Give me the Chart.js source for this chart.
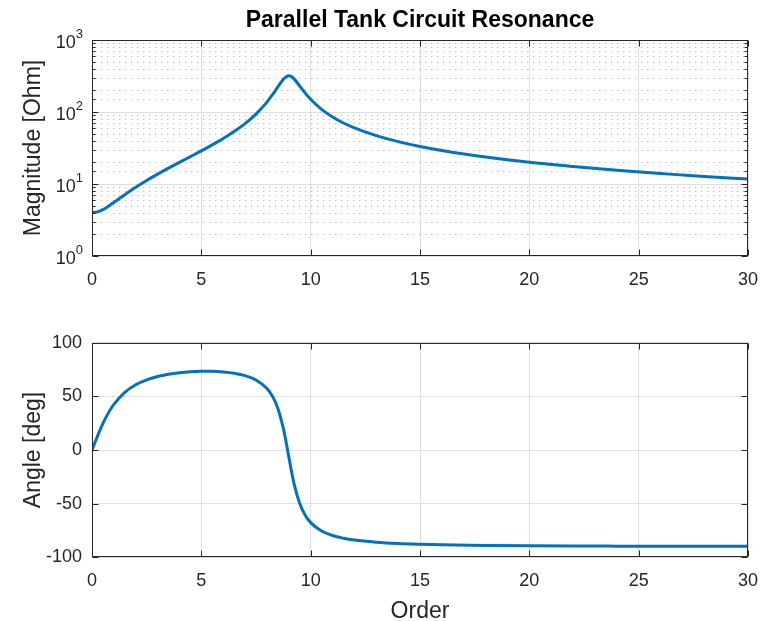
<!DOCTYPE html>
<html>
<head>
<meta charset="utf-8">
<title>Parallel Tank Circuit Resonance</title>
<script src="https://cdn.jsdelivr.net/npm/chart.js@4.4.1/dist/chart.umd.min.js"></script>
<style>
  body { margin: 0; background: #fff; }
  #wrap { position: relative; width: 760px; height: 621px; }
  #wrap canvas { position: absolute; left: 0; }
</style>
</head>
<body>
<div id="wrap">
  <canvas id="magChart" width="760" height="300" style="top:0"></canvas>
  <canvas id="angleChart" width="760" height="321" style="top:300px"></canvas>
</div>
<script>
// harmonic order on the x axis
var orders = [0, 0.25, 0.5, 0.75, 1, 1.5, 2, 2.5, 3, 3.5, 4, 4.5, 5, 5.5, 6, 6.5, 7, 7.5,
  8, 8.25, 8.5, 8.75, 8.9, 9, 9.1, 9.25, 9.5, 9.75, 10, 10.5, 11, 11.5, 12, 13, 14, 15, 16,
  18, 20, 22, 24, 26, 28, 30];

// |Z| in ohm
var magnitudeOhm = [4.0, 4.1, 4.4, 4.9, 5.55, 7.1, 9.0, 11.2, 13.7, 16.6, 20.0, 24.0, 28.8, 35.0,
  42.9, 53.6, 69.0, 93.5, 137, 173, 223, 284, 312, 318, 312, 286, 229, 183, 150, 108.5, 85.1, 70.3,
  60.1, 46.9, 38.8, 33.2, 29.2, 23.7, 20.0, 17.5, 15.5, 14.0, 12.7, 11.7];

// angle of Z in degrees
var angleDeg = [0, 12.8, 24.8, 34.6, 42.5, 53.8, 60.8, 65.4, 68.5, 70.6, 72.1, 73.0, 73.4, 73.3,
  72.7, 71.5, 69.3, 65.3, 57.3, 50.2, 38.7, 20.1, 4.8, -6.4, -17.4, -32.2, -49.9, -60.8, -67.7, -75.5,
  -79.7, -82.2, -83.9, -85.9, -87.1, -87.8, -88.3, -88.9, -89.3, -89.5, -89.6, -89.7, -89.8, -89.8];

var orderTicks = [0, 5, 10, 15, 20, 25, 30];
var angleTicks = [-100, -50, 0, 50, 100];

var FONT = '"Liberation Sans", Arial, Helvetica, sans-serif';
var AXIS_COLOR = '#262626';
var GRID_COLOR = '#dfdfdf';
var LINE_COLOR = '#0072BD';

Chart.defaults.font.family = FONT;
Chart.defaults.color = AXIS_COLOR;

function isDecade(v) {
  var e = Math.log10(v);
  return Math.abs(e - Math.round(e)) < 1e-6;
}

function toPoints(ys) {
  return orders.map(function (x, i) { return { x: x, y: ys[i] }; });
}

// keep the plot box fixed: no extra room for overhanging end labels
function noOverhang(s) {
  s.paddingLeft = 0;
  s.paddingRight = 0;
  s.paddingTop = 0;
  s.paddingBottom = 0;
}

// box, inward tick marks, dotted minor grid and 10^n labels
var matlabAxes = {
  id: 'matlabAxes',
  beforeDatasetsDraw: function (chart, args, opts) {
    if (!opts.minorGrid) return;
    var ctx = chart.ctx, a = chart.chartArea, ys = chart.scales.y;
    ctx.save();
    ctx.strokeStyle = '#b8b8b8';
    ctx.lineWidth = 1;
    ctx.setLineDash([1.2, 4.8]);
    ys.ticks.forEach(function (t) {
      if (isDecade(t.value)) return;
      var py = Math.round(ys.getPixelForValue(t.value)) + 0.5;
      ctx.beginPath();
      ctx.moveTo(a.left + 3, py);
      ctx.lineTo(a.right, py);
      ctx.stroke();
    });
    ctx.restore();
  },
  afterDraw: function (chart, args, opts) {
    var ctx = chart.ctx, a = chart.chartArea;
    var xs = chart.scales.x, ys = chart.scales.y;
    var L = Math.round(a.left) + 0.5, R = Math.round(a.right) - 0.5;
    var T = Math.round(a.top) + 0.5, B = Math.round(a.bottom) - 0.5;
    ctx.save();
    ctx.strokeStyle = AXIS_COLOR;
    ctx.lineWidth = 1;
    ctx.beginPath();
    xs.ticks.forEach(function (t) {
      var px = Math.round(xs.getPixelForValue(t.value)) + 0.5;
      ctx.moveTo(px, B); ctx.lineTo(px, B - 6);
      ctx.moveTo(px, T); ctx.lineTo(px, T + 6);
    });
    ys.ticks.forEach(function (t) {
      var py = Math.round(ys.getPixelForValue(t.value)) + 0.5;
      var len = (!opts.minorGrid || isDecade(t.value)) ? 6 : 3;
      ctx.moveTo(L, py); ctx.lineTo(L + len, py);
      ctx.moveTo(R, py); ctx.lineTo(R - len, py);
    });
    ctx.stroke();
    ctx.strokeRect(L, T, R - L, B - T);

    if (opts.logLabels) {
      ctx.fillStyle = AXIS_COLOR;
      ctx.textBaseline = 'middle';
      ctx.textAlign = 'right';
      ys.ticks.forEach(function (t) {
        if (!isDecade(t.value)) return;
        var py = ys.getPixelForValue(t.value);
        var exp = String(Math.round(Math.log10(t.value)));
        var right = a.left - 9;
        ctx.font = '13px ' + FONT;
        var ew = ctx.measureText(exp).width;
        ctx.fillText(exp, right, py - 6);
        ctx.font = '18px ' + FONT;
        ctx.fillText('10', right - ew, py + 3);
      });
    }
    ctx.restore();
  }
};

function orderAxis(height, withTitle) {
  return {
    type: 'linear',
    min: 0,
    max: 30,
    afterBuildTicks: function (s) {
      s.ticks = orderTicks.map(function (v) { return { value: v }; });
    },
    afterFit: function (s) {
      s.height = height;
      noOverhang(s);
    },
    grid: { color: GRID_COLOR, drawTicks: false },
    border: { display: false },
    ticks: { font: { size: 18 }, padding: 13, maxRotation: 0 },
    title: {
      display: withTitle,
      text: 'Order',
      font: { size: 23, lineHeight: 1 },
      padding: { top: 0, bottom: -2 }
    }
  };
}

var magChart = new Chart(document.getElementById('magChart'), {
  type: 'line',
  data: {
    datasets: [{
      data: toPoints(magnitudeOhm),
      borderColor: LINE_COLOR,
      borderWidth: 3,
      pointRadius: 0,
      cubicInterpolationMode: 'monotone',
      fill: false
    }]
  },
  options: {
    responsive: false,
    animation: false,
    events: [],
    layout: { padding: { left: 20, right: 12, top: 0, bottom: 0 } },
    plugins: {
      legend: { display: false },
      tooltip: { enabled: false },
      title: {
        display: true,
        text: 'Parallel Tank Circuit Resonance',
        color: '#000',
        fullSize: false,
        font: { size: 23, weight: 'bold', lineHeight: 1.2 },
        padding: { top: 6.5, bottom: 5.9 }
      },
      matlabAxes: { minorGrid: true, logLabels: true }
    },
    scales: {
      x: orderAxis(44, false),
      y: {
        type: 'logarithmic',
        min: 1,
        max: 1000,
        afterFit: function (s) {
          s.width = 72;
          noOverhang(s);
        },
        grid: {
          drawTicks: false,
          color: function (c) { return c.tick && isDecade(c.tick.value) ? GRID_COLOR : 'rgba(0,0,0,0)'; }
        },
        border: { display: false },
        ticks: { display: false, autoSkip: false },
        title: {
          display: true,
          text: 'Magnitude [Ohm]',
          font: { size: 23 },
          padding: { top: 0, bottom: 0 }
        }
      }
    }
  },
  plugins: [matlabAxes]
});

var angleChart = new Chart(document.getElementById('angleChart'), {
  type: 'line',
  data: {
    datasets: [{
      data: toPoints(angleDeg),
      borderColor: LINE_COLOR,
      borderWidth: 3,
      pointRadius: 0,
      cubicInterpolationMode: 'monotone',
      fill: false
    }]
  },
  options: {
    responsive: false,
    animation: false,
    events: [],
    layout: { padding: { left: 20, right: 12, top: 42.7, bottom: 0 } },
    plugins: {
      legend: { display: false },
      tooltip: { enabled: false },
      matlabAxes: { minorGrid: false, logLabels: false }
    },
    scales: {
      x: orderAxis(63.7, true),
      y: {
        type: 'linear',
        min: -100,
        max: 100,
        afterBuildTicks: function (s) {
          s.ticks = angleTicks.map(function (v) { return { value: v }; });
        },
        afterFit: function (s) {
          s.width = 72;
          noOverhang(s);
        },
        grid: { color: GRID_COLOR, drawTicks: false },
        border: { display: false },
        ticks: { font: { size: 18 }, padding: 10 },
        title: {
          display: true,
          text: 'Angle [deg]',
          font: { size: 23 },
          padding: { top: 0, bottom: 0 }
        }
      }
    }
  },
  plugins: [matlabAxes]
});
</script>
</body>
</html>
